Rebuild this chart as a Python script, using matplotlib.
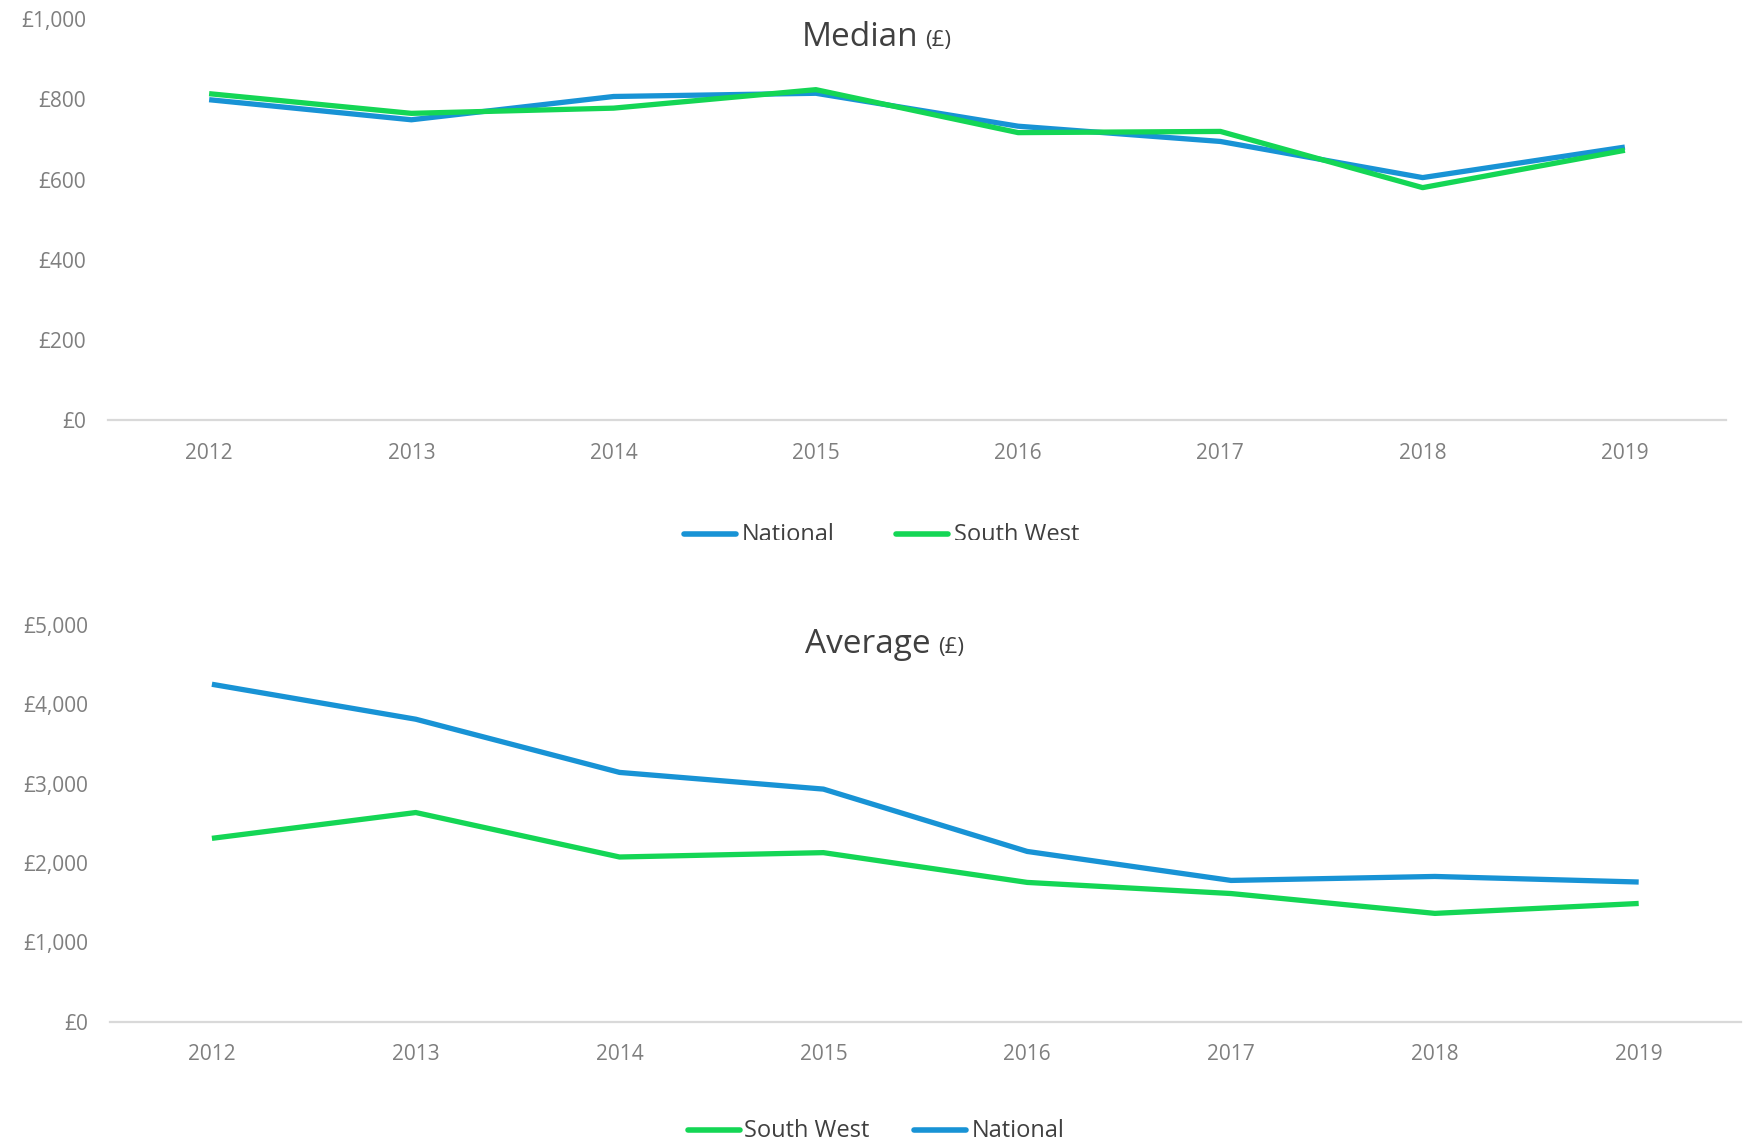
import matplotlib
matplotlib.use("Agg")
import matplotlib.pyplot as plt
from matplotlib.lines import Line2D
from matplotlib.transforms import Bbox, TransformedBbox
from matplotlib.ticker import FuncFormatter

years = ["2012", "2013", "2014", "2015", "2016", "2017", "2018", "2019"]
median_national = [799, 749, 807, 815, 733, 695, 605, 681]
median_southwest = [814, 765, 778, 824, 717, 720, 580, 673]
average_national = [4250, 3810, 3140, 2930, 2145, 1780, 1830, 1760]
average_southwest = [2310, 2635, 2075, 2130, 1755, 1615, 1365, 1490]
median_ticks = [0, 200, 400, 600, 800, 1000]
average_ticks = [0, 1000, 2000, 3000, 4000, 5000]

BLUE = "#1893D5"
GREEN = "#14D655"
GRID = "#D9D9D9"
TICKC = "#7F7F7F"
TEXTC = "#404040"
FONT = "Open Sans"

W, H = 1749, 1144
fig = plt.figure(figsize=(W / 100, H / 100), dpi=100)
fig.patch.set_facecolor("white")


def px_axes(l, t, r, b):
    return fig.add_axes([l / W, 1 - b / H, (r - l) / W, (b - t) / H])


def style(ax, ticks, top):
    ax.set_xlim(-0.5, len(years) - 0.5)
    ax.set_ylim(0, top)
    ax.set_yticks(ticks)
    ax.set_xticks(range(len(years)))
    ax.set_xticklabels(years)
    ax.yaxis.set_major_formatter(FuncFormatter(lambda v, p: "£{:,.0f}".format(v)))
    for s in ["top", "right", "left"]:
        ax.spines[s].set_visible(False)
    ax.spines["bottom"].set_color(GRID)
    ax.spines["bottom"].set_linewidth(1.6)
    ax.tick_params(axis="both", length=0, labelsize=15, labelcolor=TICKC)
    ax.tick_params(axis="y", pad=16)
    ax.tick_params(axis="x", pad=16)
    for lab in ax.get_xticklabels() + ax.get_yticklabels():
        lab.set_fontfamily(FONT)


x = list(range(len(years)))
lw = 3.8

ax1 = px_axes(108, 19, 1726, 420.5)
ax1.plot(x, median_national, color=BLUE, lw=lw, solid_joinstyle="round", solid_capstyle="butt", clip_on=False)
ax1.plot(x, median_southwest, color=GREEN, lw=lw, solid_joinstyle="round", solid_capstyle="butt", clip_on=False)
style(ax1, median_ticks, 1000)

ax2 = px_axes(110, 624.7, 1740.6, 1021.8)
ax2.plot(x, average_national, color=BLUE, lw=lw, solid_joinstyle="round", solid_capstyle="butt", clip_on=False)
ax2.plot(x, average_southwest, color=GREEN, lw=lw, solid_joinstyle="round", solid_capstyle="butt", clip_on=False)
style(ax2, average_ticks, 5000)


def fx(px):
    return px / W


def fy(py):
    return 1 - py / H


# Titles
fig.text(fx(918), fy(45.7), "Median", fontsize=24, color=TEXTC, family=FONT, ha="right", va="baseline")
fig.text(fx(925), fy(45.7), "(£)", fontsize=16, color=TEXTC, family=FONT, ha="left", va="baseline")
fig.text(fx(931), fy(652.6), "Average", fontsize=24, color=TEXTC, family=FONT, ha="right", va="baseline")
fig.text(fx(938), fy(652.6), "(£)", fontsize=16, color=TEXTC, family=FONT, ha="left", va="baseline")


def legend_item(x0, x1, y, color, label, tx, base, clip_y=None):
    fig.add_artist(Line2D([fx(x0), fx(x1)], [fy(y), fy(y)], transform=fig.transFigure,
                          color=color, lw=4.0, solid_capstyle="round"))
    t = fig.text(fx(tx), fy(base), label, fontsize=17, color=TEXTC, family=FONT,
                 ha="left", va="baseline")
    if clip_y is not None:
        clip = TransformedBbox(Bbox([[0, fy(clip_y)], [1, 1]]), fig.transFigure)
        t.set_clip_box(clip)
        t.set_clip_on(True)


legend_item(684, 736, 534, BLUE, "National", 742, 541, 540)
legend_item(896, 948, 534, GREEN, "South West", 954, 541, 540)
legend_item(688, 740, 1130, GREEN, "South West", 744, 1137)
legend_item(914, 966, 1130, BLUE, "National", 972, 1137)

fig.savefig("out.png", dpi=100, facecolor="white")
